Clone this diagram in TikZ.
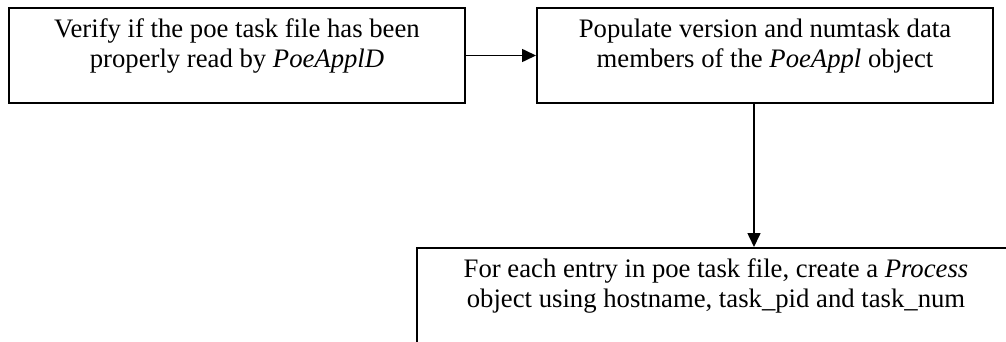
\documentclass[tikz,border=0pt]{standalone}
\usepackage{fontspec}
\setmainfont{Liberation Serif}
\usetikzlibrary{arrows.meta}
\begin{document}
\begin{tikzpicture}[x=1pt,y=1pt,
  stepbox/.style={draw=black, line width=2pt, rectangle, inner sep=0pt,
    minimum width=456pt, minimum height=95pt, anchor=north west},
  txt/.style={anchor=base, inner sep=0pt, font=\fontsize{26.7}{30.7}\selectfont},
  arr/.style={draw=black, line width=1.6pt,
    -{Triangle[length=14pt,width=13pt]}}]
\useasboundingbox (0,0) rectangle (1006,341);
\clip (0,0) rectangle (1006,341);

% process boxes
\node[stepbox] (a) at (8,334) {};
\node[stepbox] (b) at (536,334) {};
\node[stepbox, minimum width=598pt, minimum height=130pt] (c) at (416,94) {};

% box texts
\node[txt] (a1) at ([yshift=-30pt]a.north) {Verify if the poe task file has been};
\node[txt] (a2) at ([yshift=-60pt]a.north) {properly read by \textit{PoeApplD}};
\node[txt] (b1) at ([yshift=-30pt]b.north) {Populate version and numtask data};
\node[txt] (b2) at ([yshift=-60pt]b.north) {members of the \textit{PoeAppl} object};
\node[txt] (c1) at ([yshift=-30pt]c.north) {For each entry in poe task file, create a \textit{Process}};
\node[txt] (c2) at ([yshift=-60pt]c.north) {object using hostname, task\_pid and task\_num};

% connectors
\draw[arr] (a.east) -- (b.west);
\coordinate (bs) at ([xshift=-11pt]b.south);
\draw[arr] (bs) -- (bs |- c.north);
\end{tikzpicture}
\end{document}
